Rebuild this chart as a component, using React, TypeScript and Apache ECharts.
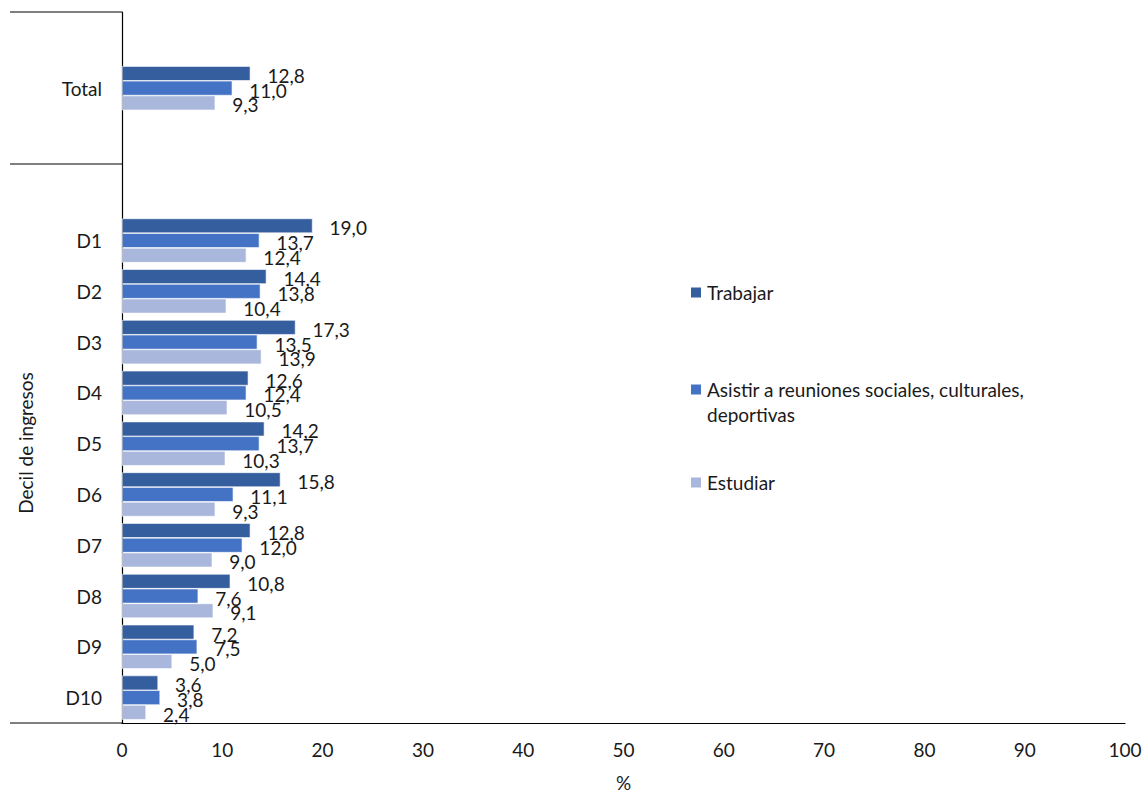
import React, { useEffect, useRef } from "react";
import * as echarts from "echarts";

const categories = ["", "Total", "", "", "D1", "D2", "D3", "D4", "D5", "D6", "D7", "D8", "D9", "D10"];
const trabajar = [null, 12.8, null, null, 19.0, 14.4, 17.3, 12.6, 14.2, 15.8, 12.8, 10.8, 7.2, 3.6];
const asistir = [null, 11.0, null, null, 13.7, 13.8, 13.5, 12.4, 13.7, 11.1, 12.0, 7.6, 7.5, 3.8];
const estudiar = [null, 9.3, null, null, 12.4, 10.4, 13.9, 10.5, 10.3, 9.3, 9.0, 9.1, 5.0, 2.4];
const seriesNames = ["Trabajar", "Asistir a reuniones sociales, culturales, deportivas", "Estudiar"];
const colors = ["#355E9F", "#4472C4", "#A9B7DC"];
const xTicks = { min: 0, max: 100, interval: 10 };

const FONT = "Lato";
const FS = 19;
const TXT = "#1a1a1a";

export default function App() {
  const ref = useRef<HTMLDivElement>(null);
  useEffect(() => {
    const chart = echarts.init(ref.current!, null, { renderer: "svg" });
    const mk = (name: string, data: (number | null)[], color: string) => ({
      type: "bar",
      name,
      data: data.map((v) => (v === null ? "-" : v)),
      barGap: "0%",
      barCategoryGap: "13%",
      itemStyle: { color, borderColor: "#ffffff", borderWidth: 0.6 },
      label: {
        show: true,
        position: "right",
        distance: 17,
        offset: [0, 2],
        fontFamily: FONT,
        fontSize: FS,
        color: TXT,
        formatter: (p: any) => Number(p.value).toFixed(1).replace(".", ","),
      },
    });
    const legendBase = {
      orient: "vertical",
      left: 689,
      padding: 0,
      itemWidth: 12,
      itemHeight: 12,
      icon: "rect",
      itemGap: 8,
      textStyle: { fontFamily: FONT, fontSize: FS, color: TXT },
      selectedMode: false,
    };
    chart.setOption({
      animation: false,
      grid: { left: 122, right: 18, top: 12, bottom: 68, containLabel: false, outerBoundsMode: "none" },
      legend: [
        { ...legendBase, top: 283, data: [seriesNames[0]] },
        {
          ...legendBase,
          top: 352,
          data: [seriesNames[1]],
          formatter: () => "\u00a0\nAsistir a reuniones sociales, culturales,\ndeportivas",
          textStyle: { ...legendBase.textStyle, lineHeight: 25 },
        },
        { ...legendBase, top: 473, data: [seriesNames[2]] },
      ],
      xAxis: {
        type: "value",
        min: xTicks.min,
        max: xTicks.max,
        interval: xTicks.interval,
        splitLine: { show: false },
        axisLine: { show: true, lineStyle: { color: "#000", width: 1.2 } },
        axisTick: { show: false },
        axisLabel: { fontFamily: FONT, fontSize: FS, color: TXT, margin: 17 },
        name: "%",
        nameLocation: "middle",
        nameGap: 50,
        nameTextStyle: { fontFamily: FONT, fontSize: FS, color: TXT, lineHeight: 18 },
      },
      yAxis: {
        type: "category",
        data: categories,
        inverse: true,
        axisLine: { show: true, lineStyle: { color: "#000", width: 1.2 } },
        axisTick: { show: false },
        axisLabel: { fontFamily: FONT, fontSize: FS, color: TXT, margin: 20 },
      },
      graphic: [
        { type: "line", shape: { x1: 10, y1: 12, x2: 122, y2: 12 }, style: { stroke: "#000", lineWidth: 1.2 } },
        { type: "line", shape: { x1: 10, y1: 164, x2: 122, y2: 164 }, style: { stroke: "#000", lineWidth: 1.2 } },
        { type: "line", shape: { x1: 10, y1: 723, x2: 122, y2: 723 }, style: { stroke: "#000", lineWidth: 1.2 } },
        {
          type: "text",
          x: 25,
          y: 443,
          rotation: Math.PI / 2,
          style: {
            text: "Decil de ingresos",
            fontFamily: FONT,
            fontSize: FS,
            fill: TXT,
            textAlign: "center",
            textVerticalAlign: "middle",
          },
        },
      ],
      series: [
        mk(seriesNames[0], trabajar, colors[0]),
        mk(seriesNames[1], asistir, colors[1]),
        mk(seriesNames[2], estudiar, colors[2]),
      ],
    });
    return () => chart.dispose();
  }, []);
  return <div ref={ref} style={{ width: 1143, height: 791, position: "absolute", left: 0, top: 0 }} />;
}
